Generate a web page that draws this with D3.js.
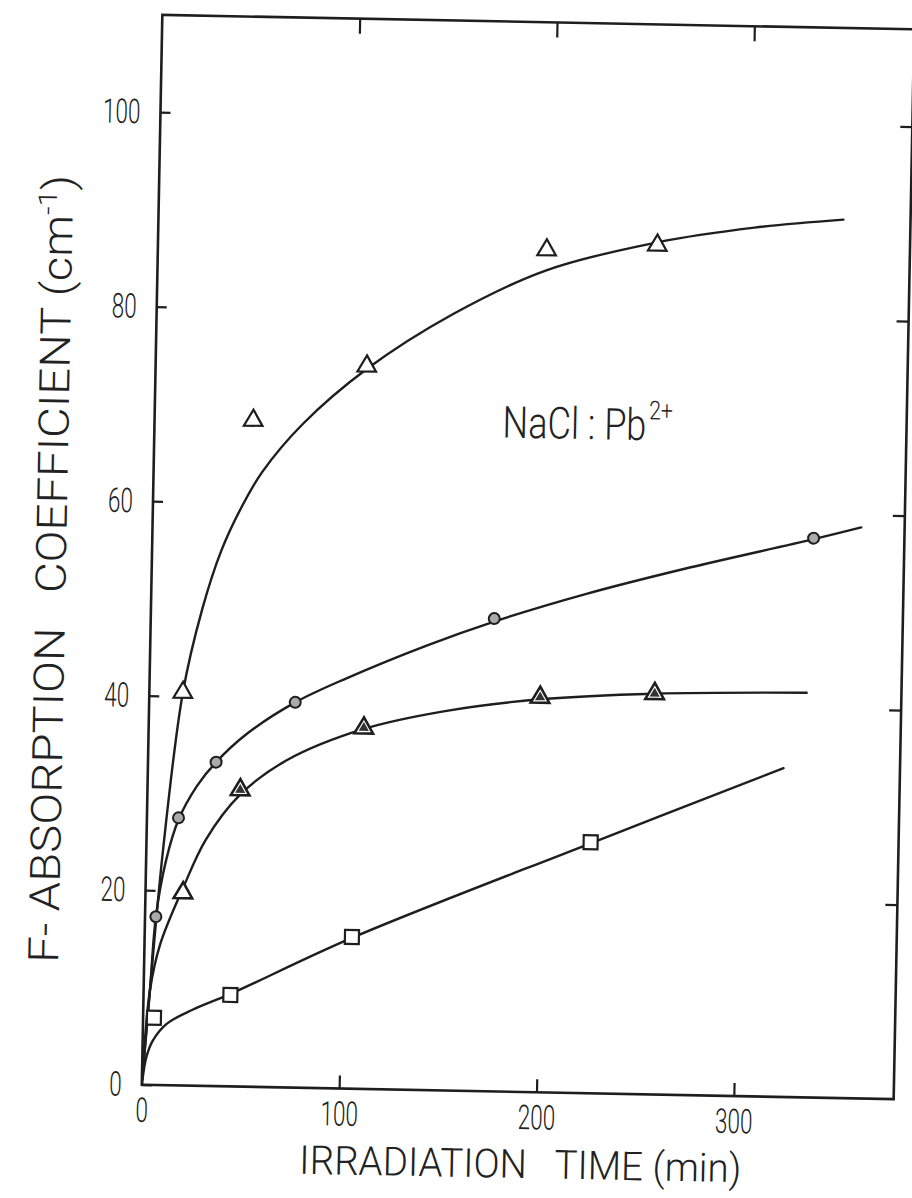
<!DOCTYPE html>
<html>
<head>
<meta charset="utf-8">
<script src="https://cdn.jsdelivr.net/npm/d3@7"></script>
<style>
  body { margin: 0; background: #fff; }
  svg { display: block; }
  .lbl { font-family: Roboto, "Liberation Sans", sans-serif; font-weight: 300; fill: #222; }
</style>
</head>
<body>
<svg id="chart" width="912" height="1198"></svg>
<script>
// Open triangles (upper curve)
const timeTriOpen = [17, 50, 107, 197, 253];
const coefTriOpen = [40.4, 68.5, 74.3, 86.6, 87.3];
// Circles
const timeCircle = [5.5, 16, 34.5, 74, 174, 335];
const coefCircle = [17.3, 27.5, 33.3, 39.6, 48.6, 57.5];
// Solid triangles (first one open)
const timeTriSolid = [19, 47, 109, 198, 256];
const coefTriSolid = [19.8, 30.5, 37.1, 40.6, 41.2];
// Squares
const timeSquare = [5.5, 44, 105, 225];
const coefSquare = [6.9, 9.4, 15.6, 25.8];

// Drawn smooth curves
const curveTriOpenT = [0.3, 3.2, 8.4, 17, 26, 35, 45, 55, 75, 107, 150, 197, 253, 302, 347];
const curveTriOpenV = [1, 9.7, 24, 40.4, 49, 55, 59.6, 63.2, 68.2, 74, 79.8, 84.5, 87.6, 89.3, 90.3];
const curveCircleT = [0.3, 3.2, 5.5, 10, 16, 25, 34.5, 50, 74, 100, 140, 174, 220, 270, 335, 359];
const curveCircleV = [1, 9.7, 17.3, 23, 27.3, 30.8, 33.3, 36.3, 39.6, 42.2, 45.7, 48.3, 51.3, 54.1, 57.4, 58.7];
const curveTriSolidT = [0.3, 3.2, 8, 19, 30, 47, 70, 109, 150, 198, 256, 333];
const curveTriSolidV = [1, 9.7, 14.5, 20.3, 25.3, 30, 33.6, 37, 39, 40.4, 41.2, 41.6];
const curveSquareT = [0.3, 2, 5, 12, 25, 44, 105, 225, 322];
const curveSquareV = [0.5, 2.8, 4.5, 6.3, 7.8, 9.5, 15.5, 25.7, 33.8];

// Axis ticks
const xTicks = [0, 100, 200, 300];
const yTicks = [0, 20, 40, 60, 80, 100];

const ink = "#1e1e1e";
const svg = d3.select("#chart");

const frame = { left: 152, right: 904, top: 22, bottom: 1092 };
const x = d3.scaleLinear().domain([0, 381]).range([frame.left, frame.right]);
const y = d3.scaleLinear().domain([0, 110]).range([frame.bottom, frame.top]);

// the whole sheet sits slightly turned
const g = svg.append("g").attr("transform", "rotate(1.1 528 557)");

g.append("rect")
  .attr("x", frame.left).attr("y", frame.top)
  .attr("width", frame.right - frame.left).attr("height", frame.bottom - frame.top)
  .attr("fill", "none").attr("stroke", ink).attr("stroke-width", 2.6);

function styleAxis(sel) {
  sel.select(".domain").remove();
  sel.selectAll("line").attr("stroke", ink).attr("stroke-width", 2.2);
  sel.selectAll("text").attr("class", "lbl").attr("font-size", 34)
    .attr("textLength", d => String(d).length * 12.5)
    .attr("lengthAdjust", "spacingAndGlyphs");
}

g.append("g").attr("transform", `translate(0,${frame.bottom})`)
  .call(d3.axisBottom(x).tickValues(xTicks).tickSizeInner(-13).tickSizeOuter(0).tickPadding(13).tickFormat(d3.format("d")))
  .call(styleAxis);

g.append("g").attr("transform", `translate(${frame.left},0)`)
  .call(d3.axisLeft(y).tickValues(yTicks).tickSizeInner(-10).tickSizeOuter(0).tickPadding(20).tickFormat(d3.format("d")))
  .call(styleAxis);

g.append("g").attr("transform", `translate(0,${frame.top})`)
  .call(d3.axisTop(x).tickValues(xTicks.slice(1)).tickSizeInner(-15).tickSizeOuter(0).tickFormat(""))
  .call(styleAxis);

g.append("g").attr("transform", `translate(${frame.right},0)`)
  .call(d3.axisRight(y).tickValues(yTicks.slice(1)).tickSizeInner(-12).tickSizeOuter(0).tickFormat(""))
  .call(styleAxis);

// curves
const line = d3.line().x(d => x(d[0])).y(d => y(d[1])).curve(d3.curveCatmullRom.alpha(0.5));
const curves = [
  [curveTriOpenT, curveTriOpenV],
  [curveCircleT, curveCircleV],
  [curveTriSolidT, curveTriSolidV],
  [curveSquareT, curveSquareV]
];
curves.forEach(([ts, vs]) => {
  g.append("path")
    .datum(d3.zip(ts, vs))
    .attr("d", line)
    .attr("fill", "none").attr("stroke", ink).attr("stroke-width", 2.4)
    .attr("stroke-linecap", "round");
});

// markers
const tri = d3.symbol().type(d3.symbolTriangle);

g.selectAll(".triOpen").data(d3.zip(timeTriOpen, coefTriOpen)).join("path")
  .attr("transform", d => `translate(${x(d[0])},${y(d[1])})`)
  .attr("d", tri.size(150)())
  .attr("fill", "#fff").attr("stroke", ink).attr("stroke-width", 2.2);

const solid = g.selectAll(".triSolid").data(d3.zip(timeTriSolid, coefTriSolid)).join("g")
  .attr("transform", d => `translate(${x(d[0])},${y(d[1])})`);
solid.append("path").attr("d", tri.size(150)())
  .attr("fill", "#fff").attr("stroke", ink).attr("stroke-width", 2.6);
solid.filter((d, i) => i > 0).append("path").attr("d", tri.size(45)())
  .attr("fill", "#333");

g.selectAll(".circ").data(d3.zip(timeCircle, coefCircle)).join("circle")
  .attr("cx", d => x(d[0])).attr("cy", d => y(d[1])).attr("r", 5.5)
  .attr("fill", "#aaa").attr("stroke", ink).attr("stroke-width", 2);

g.selectAll(".sq").data(d3.zip(timeSquare, coefSquare)).join("rect")
  .attr("x", d => x(d[0]) - 7).attr("y", d => y(d[1]) - 7)
  .attr("width", 14).attr("height", 14)
  .attr("fill", "#fff").attr("stroke", ink).attr("stroke-width", 2.2);

// annotation: one text, narrowed horizontally
const note = g.append("text").attr("class", "lbl")
  .attr("transform", "translate(500,438) scale(0.82,1)")
  .attr("font-size", 44);
note.append("tspan").text("NaCl : Pb");
note.append("tspan").text("2+").attr("font-size", 26).attr("dx", 3).attr("dy", -21);

// axis titles
g.append("text").attr("class", "lbl")
  .attr("x", 532).attr("y", 1178).attr("text-anchor", "middle")
  .attr("font-size", 40).style("white-space", "pre")
  .attr("textLength", 442).attr("lengthAdjust", "spacingAndGlyphs")
  .text("IRRADIATION   TIME (min)");

const yt = g.append("text").attr("class", "lbl")
  .attr("transform", "translate(66,578) rotate(-90)")
  .attr("text-anchor", "middle").attr("font-size", 42).style("white-space", "pre")
  .attr("textLength", 788).attr("lengthAdjust", "spacingAndGlyphs");
yt.append("tspan").text("F- ABSORPTION   COEFFICIENT (cm");
yt.append("tspan").text("-1").attr("font-size", 26).attr("dy", -16);
yt.append("tspan").text(")").attr("dy", 16);
</script>
</body>
</html>
